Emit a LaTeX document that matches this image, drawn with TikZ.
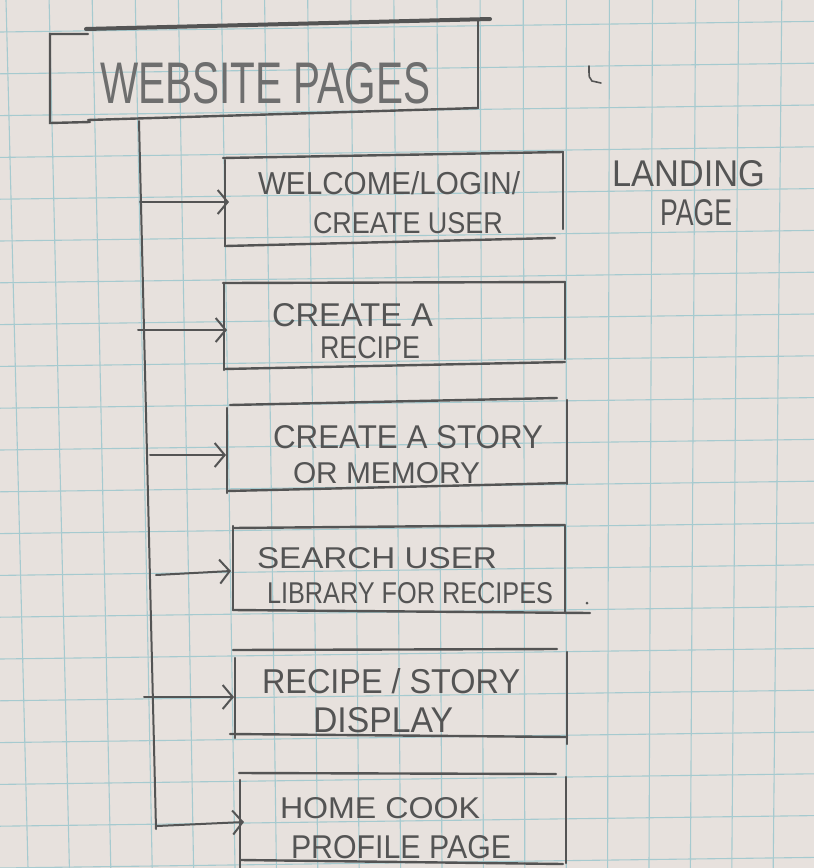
\documentclass[tikz,border=0pt]{standalone}
\usepackage{fontspec}
\usepackage{graphicx}
\setmainfont{Liberation Sans}
\usetikzlibrary{arrows.meta}

\definecolor{paper}{RGB}{231,225,221}
\definecolor{gridblue}{RGB}{166,202,207}
\definecolor{graphite}{RGB}{84,84,84}
\definecolor{graphitelight}{RGB}{110,110,110}

% hand lettering squeezed into a given width and cap height (in pt)
\newcommand{\handtext}[3]{\resizebox{#1pt}{#2pt}{#3}}

\tikzset{
  gridline/.style={draw=gridblue, line width=1.1pt},
  boxline/.style={draw=graphite, line width=2.4pt, line cap=round},
  heavyline/.style={draw=graphite, line width=4pt, line cap=round},
  trunkline/.style={draw=graphite, line width=2pt, line cap=round},
  conn/.style={draw=graphite, line width=2pt, line cap=round,
    -{Straight Barb[length=10pt, width=24pt, line width=2pt]}},
  hand/.style={inner sep=0pt, outer sep=0pt, text=graphite, anchor=base west},
  handlight/.style={hand, text=graphitelight},
}

\begin{document}
\begin{tikzpicture}[x=1pt, y=-1pt]
  \useasboundingbox (0,0) rectangle (814,868);
  \clip (0,0) rectangle (814,868);

  % squared paper
  \fill[paper] (0,0) rectangle (814,868);
  \foreach \k in {0,...,19}
    \draw[gridline] ({6+43.1*\k},0) -- ({28+41.4*\k},868);
  \foreach \j in {-1,...,21}
    \draw[gridline] (0,{32+41.8*\j}) -- (814,{21.4+41.8*\j});

  % ---- WEBSITE PAGES ----
  \draw[boxline] (88,34) -- (50,34) -- (50,123) -- (90,122);
  \draw[heavyline] (86,29) -- (490,19);
  \draw[boxline] (478,19) -- (478,108);
  \draw[boxline] (88,120) -- (478,108);
  \node[handlight] (title) at (100,103) {\handtext{330}{41}{WEBSITE PAGES}};

  % stray pencil mark
  \draw[draw=graphite, line width=1.6pt, line cap=round]
    (589,66) .. controls (589,78) .. (592,81) -- (601,83);

  % trunk line down from the title box
  \coordinate (trunktop) at (139,121);
  \coordinate (trunkbot) at (156,829);
  \draw[trunkline] (trunktop) -- (trunkbot);

  % ---- page 1: welcome ----
  \draw[boxline] (223,158) -- (563,152);
  \draw[boxline] (563,152) -- (563,229);
  \draw[boxline] (225,246) -- (555,238);
  \draw[boxline] (225,160) -- (225,246);
  \node[hand] (welcomeA) at (258,194) {\handtext{262}{23}{WELCOME/LOGIN/}};
  \node[hand] (welcomeB) at (313,233) {\handtext{190}{21}{CREATE USER}};
  \node[hand] (landingA) at (612,186) {\handtext{153}{26}{LANDING}};
  \node[hand] (landingB) at (660,225) {\handtext{72}{26}{PAGE}};

  % ---- page 2: create a recipe ----
  \draw[boxline] (223,283) -- (565,282);
  \draw[boxline] (565,282) -- (565,359);
  \draw[boxline] (224,369) -- (565,362);
  \draw[boxline] (224,283) -- (224,370);
  \node[hand] (recipeA) at (272,326) {\handtext{161}{23}{CREATE A}};
  \node[hand] (recipeB) at (320,358) {\handtext{100}{22}{RECIPE}};

  % ---- page 3: create a story ----
  \draw[boxline] (230,405) -- (557,398);
  \draw[boxline] (567,400) -- (567,484);
  \draw[boxline] (227,491) -- (567,483);
  \draw[boxline] (227,408) -- (227,493);
  \node[hand] (storyA) at (273,448) {\handtext{270}{23}{CREATE A STORY}};
  \node[hand] (storyB) at (293,483) {\handtext{187}{21}{OR MEMORY}};

  % ---- page 4: search ----
  \draw[boxline] (233,528) -- (565,525);
  \draw[boxline] (233,526) -- (233,610);
  \draw[boxline] (565,526) -- (565,612);
  \draw[boxline] (233,610) -- (590,613);
  \fill[graphite] (587,603) circle (1.5pt);
  \node[hand] (searchA) at (257,568) {\handtext{240}{21}{SEARCH USER}};
  \node[hand] (searchB) at (267,603) {\handtext{286}{21}{LIBRARY FOR RECIPES}};

  % ---- page 5: display ----
  \draw[boxline] (233,650) -- (557,649);
  \draw[boxline] (235,658) -- (235,738);
  \draw[boxline] (567,652) -- (567,744);
  \draw[boxline] (230,734) -- (567,737);
  \node[hand] (displayA) at (262,693) {\handtext{258}{25}{RECIPE / STORY}};
  \node[hand] (displayB) at (313,732) {\handtext{140}{25}{DISPLAY}};

  % ---- page 6: profile ----
  \draw[boxline] (239,773) -- (556,774);
  \draw[boxline] (240,780) -- (240,870);
  \draw[boxline] (566,777) -- (566,863);
  \draw[boxline] (241,860) -- (563,864);
  \node[hand] (profileA) at (280,818) {\handtext{200}{21}{HOME COOK}};
  \node[hand] (profileB) at (291,858) {\handtext{220}{23}{PROFILE PAGE}};

  % branches from the trunk to each page
  \coordinate (t1) at (140,202);  \coordinate (p1) at (229,202);
  \coordinate (t2) at (138,330);  \coordinate (p2) at (227,330);
  \coordinate (t3) at (150,455);  \coordinate (p3) at (226,455);
  \coordinate (t4) at (156,575);  \coordinate (p4) at (231,571);
  \coordinate (t5) at (144,697);  \coordinate (p5) at (234,697);
  \coordinate (t6) at (157,826);  \coordinate (p6) at (244,822);
  \foreach \i in {1,...,6}
    \draw[conn] (t\i) -- (p\i);
\end{tikzpicture}
\end{document}
